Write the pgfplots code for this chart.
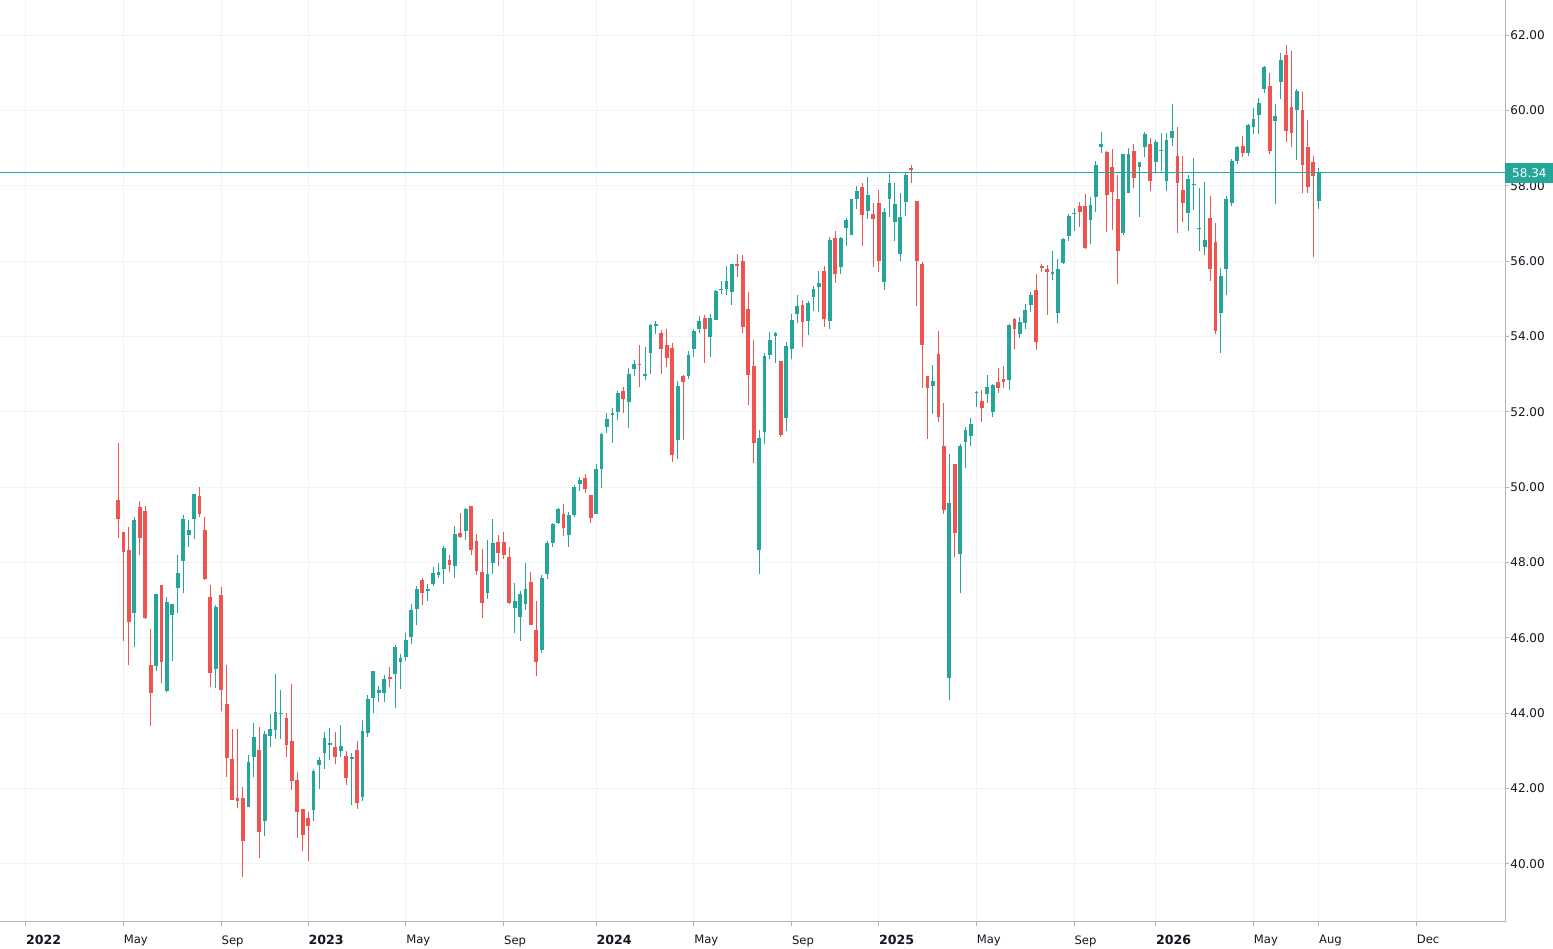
\documentclass[border=0pt]{standalone}
\usepackage{pgfplots}
\pgfplotsset{compat=1.18}
\usepackage{pgfplotstable}
\usepackage{fontspec}
\setmainfont{DejaVu Sans}
\definecolor{tvgreen}{HTML}{26A69A}
\definecolor{tvred}{HTML}{EF5350}
\definecolor{tvgrid}{HTML}{F0F3FA}
\definecolor{tvaxis}{HTML}{B2B5BE}
\definecolor{tvtext}{HTML}{131722}
\newcommand{\yr}[1]{{\fontsize{6.3}{7.5}\selectfont\bfseries #1}}

% week index, open, high, low, close
\pgfplotstableread{
i O H L C
4 46.65 49.20 45.77 49.13
8 45.26 47.17 45.12 47.17
10 44.58 47.08 44.57 46.96
11 46.62 46.90 45.40 46.90
12 47.33 48.21 46.67 47.72
13 48.03 49.27 47.19 49.15
14 48.73 49.13 48.41 48.87
15 49.15 49.82 48.62 49.82
19 45.17 46.87 44.66 46.81
25 41.52 42.90 41.52 42.71
26 42.83 43.74 42.30 43.36
28 41.14 43.53 40.73 43.45
29 43.40 43.99 43.10 43.58
30 43.56 45.05 43.33 44.04
31 43.99 44.62 43.33 44.02
37 41.42 42.53 41.14 42.48
38 42.62 42.85 41.99 42.76
39 42.94 43.49 42.52 43.35
40 43.15 43.61 42.75 43.21
42 43.01 43.68 42.85 43.12
44 42.78 42.94 41.56 42.85
46 41.79 43.81 41.67 43.53
47 43.47 44.48 43.38 44.37
48 44.41 45.12 44.00 45.12
49 44.53 44.73 44.29 44.62
50 44.53 45.01 44.29 44.91
52 45.03 45.81 44.13 45.77
53 45.36 45.57 44.65 45.46
54 45.48 46.12 45.39 45.94
55 46.03 46.90 45.85 46.75
56 46.77 47.39 46.33 47.30
58 47.25 47.44 46.97 47.30
59 47.43 47.89 47.37 47.71
60 47.66 47.98 47.60 47.76
61 47.82 48.45 47.44 48.38
63 47.90 48.97 47.60 48.77
65 48.84 49.46 48.61 49.43
69 47.18 48.59 47.04 47.69
70 47.99 49.16 47.69 48.51
74 46.79 47.46 46.12 46.97
75 46.56 47.25 45.92 47.16
76 46.91 47.98 46.75 47.29
79 45.69 47.67 45.59 47.60
80 47.70 48.58 47.55 48.53
81 48.51 49.04 48.41 49.01
82 49.04 49.45 49.01 49.41
84 48.72 49.34 48.42 49.26
85 49.27 50.05 49.22 50.00
86 50.09 50.26 49.89 50.18
89 49.29 50.62 49.29 50.49
90 50.48 51.43 49.98 51.41
91 51.59 51.96 51.43 51.82
92 51.91 52.10 51.18 51.96
93 52.00 52.56 51.79 52.51
95 52.26 53.15 51.57 53.01
96 53.13 53.38 52.94 53.27
98 52.95 53.71 52.85 53.01
99 53.57 54.33 53.01 54.30
100 54.28 54.40 54.07 54.33
104 51.25 52.83 50.76 52.69
106 52.94 53.61 52.88 53.50
107 53.66 54.21 53.46 54.14
108 54.21 54.54 54.10 54.40
110 53.98 54.60 53.46 54.49
111 54.45 55.23 54.44 55.20
112 55.22 55.46 55.14 55.27
113 55.27 55.87 55.09 55.48
114 55.18 55.92 54.84 55.91
119 48.33 51.52 47.70 51.30
120 51.46 53.55 51.15 53.48
121 53.52 54.12 53.39 53.91
122 54.01 54.12 53.30 54.08
124 51.84 53.85 51.48 53.76
125 53.68 54.60 53.39 54.44
126 54.60 55.11 54.35 54.81
128 54.42 54.93 54.03 54.88
129 55.06 55.34 54.68 55.27
130 55.32 55.75 54.65 55.43
132 54.42 56.63 54.21 56.56
134 55.84 56.64 55.67 56.60
135 56.87 57.15 56.39 57.09
136 56.69 57.64 56.68 57.64
137 57.66 58.00 57.38 57.87
139 57.32 58.23 57.13 57.76
142 55.44 57.41 55.23 57.30
143 57.64 58.32 57.17 58.08
144 57.04 58.08 56.54 57.51
145 56.18 57.81 55.99 57.17
146 57.57 58.34 57.19 58.29
151 52.69 53.24 51.94 52.83
154 44.94 50.87 44.35 49.57
156 48.22 51.14 47.18 51.10
157 51.20 51.60 50.51 51.52
158 51.35 51.84 51.10 51.67
159 52.49 52.54 52.13 52.52
161 52.46 52.97 52.23 52.66
162 52.00 52.74 51.86 52.71
165 52.85 54.34 52.58 54.30
167 54.07 54.51 53.95 54.39
168 54.37 54.85 54.21 54.69
169 54.83 55.17 54.64 55.11
173 55.65 56.28 55.50 55.70
174 54.62 56.05 54.35 55.80
175 55.96 56.62 55.93 56.58
176 56.67 57.24 56.53 57.19
177 57.24 57.42 56.81 57.27
180 57.08 57.70 56.46 57.50
181 57.70 58.65 57.29 58.55
182 59.04 59.43 58.88 59.11
186 56.74 58.85 56.70 58.83
187 57.81 59.00 57.80 58.84
189 58.50 58.64 57.16 58.64
190 59.02 59.42 58.75 59.37
192 58.64 59.21 58.34 59.16
193 58.91 59.41 58.38 58.94
194 58.13 59.39 57.85 59.21
195 59.28 60.17 59.05 59.46
198 57.28 58.29 56.80 58.17
199 58.01 58.73 57.35 58.04
200 56.84 57.94 56.26 56.87
201 56.38 58.10 56.15 56.57
204 54.63 55.83 53.55 55.60
205 55.80 57.74 55.11 57.64
206 57.55 58.72 57.46 58.66
207 58.66 59.05 58.59 59.02
209 58.86 59.64 58.80 59.62
210 59.57 60.06 59.37 59.76
211 59.87 60.33 59.37 60.20
212 60.57 61.18 60.47 61.14
214 59.71 60.18 57.51 59.85
215 60.75 61.53 60.29 61.33
218 60.01 60.56 58.68 60.52
222 57.60 58.47 57.39 58.34
}\greentab

\pgfplotstableread{
i O H L C
1 49.65 51.17 48.65 49.15
2 48.80 48.80 45.93 48.27
3 48.34 48.94 45.27 46.42
5 49.47 49.63 48.19 48.64
6 49.38 49.50 46.51 46.53
7 45.29 46.23 43.65 44.53
9 47.40 47.40 44.80 45.35
16 49.77 50.00 49.20 49.29
17 48.87 49.20 47.54 47.56
18 47.08 47.40 44.71 45.06
20 47.13 47.34 44.05 44.62
21 44.25 45.27 42.32 42.80
22 42.78 43.59 41.70 41.70
23 41.74 43.58 41.49 41.68
24 41.75 42.05 39.65 40.62
27 43.03 43.63 40.15 40.85
32 43.88 44.02 42.84 43.17
33 43.26 44.78 41.95 42.20
34 42.23 42.45 40.69 41.37
35 41.46 41.46 40.34 40.78
36 41.21 41.37 40.09 41.00
41 43.10 43.49 42.66 42.84
43 42.87 42.99 42.09 42.29
45 43.03 43.26 41.46 41.61
51 44.96 45.24 44.69 44.92
57 47.53 47.59 46.88 47.20
62 48.08 48.19 47.76 47.94
64 48.79 49.32 48.65 48.68
66 49.50 49.50 48.19 48.33
67 48.56 48.77 47.67 47.78
68 47.75 48.36 46.52 46.93
71 48.54 48.74 47.90 48.26
72 48.54 48.82 48.10 48.21
73 48.15 48.42 46.90 46.93
77 47.48 47.76 46.33 46.35
78 46.22 46.98 44.99 45.36
83 49.29 49.56 48.71 48.92
87 50.25 50.35 49.84 49.96
88 49.79 49.79 49.06 49.18
94 52.55 52.65 51.96 52.35
97 53.27 53.77 52.65 53.24
101 54.09 54.17 53.01 53.66
102 53.77 54.19 53.20 53.43
103 53.70 53.82 50.67 50.85
105 52.95 52.99 51.24 52.79
109 54.49 54.58 53.29 54.21
115 55.92 56.19 55.59 55.87
116 56.01 56.15 54.08 54.24
117 54.72 55.18 52.19 52.99
118 53.22 53.91 50.65 51.18
123 53.36 53.36 51.32 51.38
127 54.83 54.97 53.71 54.38
131 55.75 55.87 54.24 54.47
133 56.62 56.79 55.42 55.65
138 57.96 58.08 56.39 57.23
140 57.26 57.55 55.84 57.11
141 57.55 57.89 55.71 55.99
147 58.46 58.55 58.08 58.42
148 57.59 57.59 54.80 55.99
149 55.92 55.97 52.64 53.78
150 52.94 52.94 51.29 52.64
152 53.53 54.14 51.73 51.86
153 51.10 52.24 49.30 49.40
155 50.61 50.61 48.14 48.79
160 52.30 52.57 51.74 52.09
163 52.78 53.17 52.51 52.62
164 52.87 53.22 52.64 52.78
166 54.46 54.50 53.66 54.19
170 55.22 55.66 53.63 53.84
171 55.88 55.93 55.70 55.82
172 55.80 55.89 54.57 55.70
178 57.47 57.57 56.90 57.31
179 57.45 57.77 56.32 56.34
183 58.90 58.92 56.76 57.75
184 58.49 58.97 56.83 57.84
185 57.65 58.28 55.40 56.26
188 58.93 59.12 57.95 58.20
191 59.11 59.28 57.85 58.13
196 58.80 59.57 56.75 58.06
197 57.90 58.79 57.03 57.53
202 57.14 57.74 55.48 55.80
203 56.52 57.00 54.06 54.15
208 59.05 59.32 58.75 58.88
213 60.64 60.98 58.84 58.91
216 61.48 61.74 59.16 59.44
217 60.08 61.58 59.02 59.41
219 60.01 60.50 57.80 58.54
220 59.03 59.74 57.80 57.97
221 58.64 58.80 56.10 58.27
}\redtab

\begin{document}
\begin{tikzpicture}
\useasboundingbox (0,0) rectangle (776.5pt,474pt);
\fill[white] (0,0) rectangle (776.5pt,474pt);
\begin{axis}[
  at={(0pt,13pt)}, anchor=south west,
  scale only axis, width=752.5pt, height=461pt,
  xmin=-20.72, xmax=256.29, ymin=38.46, ymax=62.93,
  axis x line=bottom, axis y line=right,
  axis line style={draw=tvaxis, line width=0.5pt, -},
  clip=false,
  tick align=outside, major tick length=2pt,
  tick style={draw=tvaxis, line width=0.5pt},
  grid=major, major grid style={draw=tvgrid, line width=0.5pt},
  ytick={40,42,...,62},
  xtick={-16,2,20,36,54,72,89,107,125,141,159,177,192,210,222,240},
  xticklabels={\yr{2022},May,Sep,\yr{2023},May,Sep,\yr{2024},May,Sep,\yr{2025},May,Sep,\yr{2026},May,Aug,Dec},
  x tick label style={font=\fontsize{5.8}{7}\selectfont, text=tvtext, anchor=north west, inner sep=0pt, yshift=-4.5pt},
  y tick label style={font=\fontsize{6}{7}\selectfont, text=tvtext, anchor=west, inner sep=0pt, xshift=0.5pt},
  /pgf/number format/fixed,
  /pgf/number format/fixed zerofill,
  /pgf/number format/precision=2,
  /pgf/number format/assume math mode=true,
]
% wicks
\addplot[draw=none, mark=none, forget plot, error bars/.cd, y dir=plus, y explicit, error mark=none,
  error bar style={draw=tvgreen, line width=0.5pt}]
  table[x=i, y=L, y error plus expr=\thisrow{H}-\thisrow{L}] {\greentab};
\addplot[draw=none, mark=none, forget plot, error bars/.cd, y dir=plus, y explicit, error mark=none,
  error bar style={draw=tvred, line width=0.5pt}]
  table[x=i, y=L, y error plus expr=\thisrow{H}-\thisrow{L}] {\redtab};
% bodies
\addplot[draw=none, mark=none, forget plot, error bars/.cd, y dir=plus, y explicit, error mark=none,
  error bar style={draw=tvgreen, line width=1.9pt}]
  table[x=i, y=O, y error plus expr=\thisrow{C}-\thisrow{O}] {\greentab};
\addplot[draw=none, mark=none, forget plot, error bars/.cd, y dir=plus, y explicit, error mark=none,
  error bar style={draw=tvred, line width=1.9pt}]
  table[x=i, y=C, y error plus expr=\thisrow{O}-\thisrow{C}] {\redtab};
% last price line
\addplot[tvgreen, line width=0.5pt, forget plot] coordinates {(-20.72,58.34) (256.29,58.34)};
\node[fill=tvgreen, text=white, anchor=west, inner sep=0pt, minimum width=24pt, minimum height=10pt,
  font=\fontsize{6}{7}\selectfont] at (axis cs:256.29,58.34) {58.34};
\end{axis}
\end{tikzpicture}
\end{document}
